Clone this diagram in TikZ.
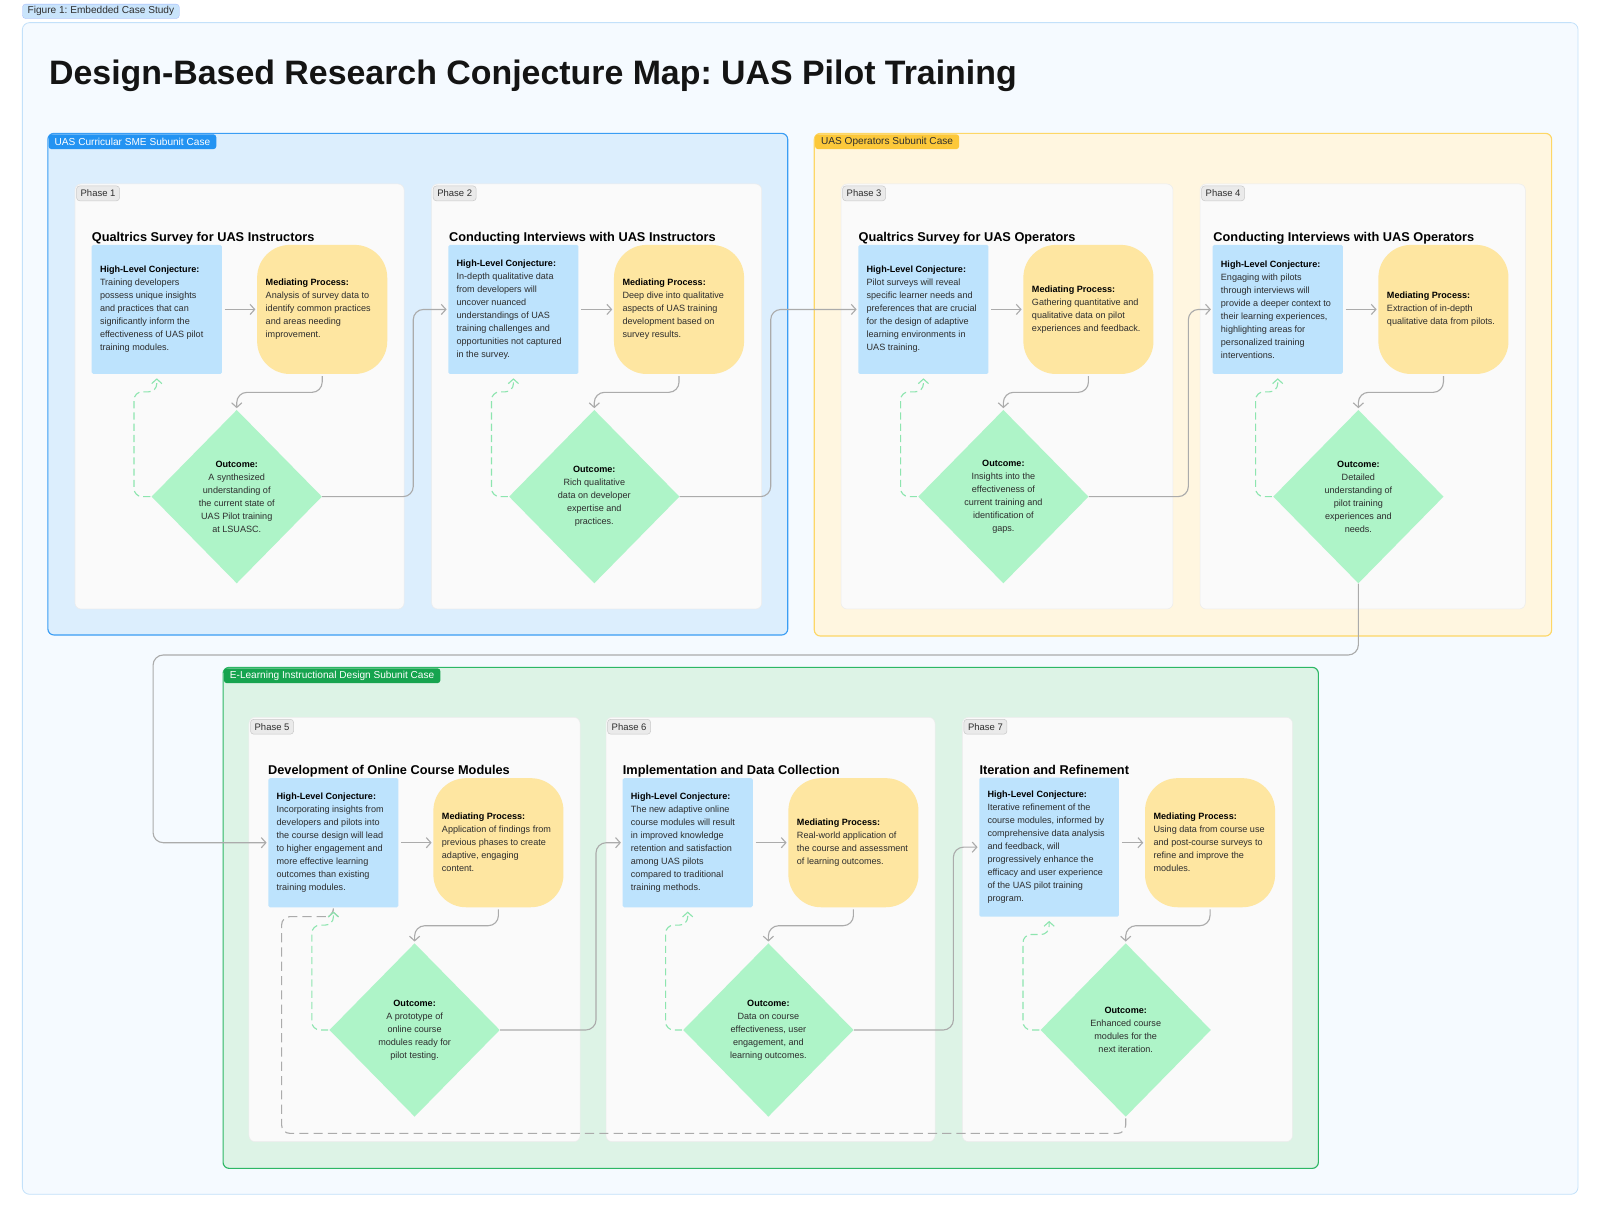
\documentclass[tikz,border=0pt]{standalone}
\usepackage{fontspec}
\setmainfont{Liberation Sans}
\usetikzlibrary{arrows.meta,shapes.geometric,calc}
\frenchspacing

\definecolor{outerbg}{HTML}{F5FAFF}
\definecolor{outerbd}{HTML}{C3E1FA}
\definecolor{figlab}{HTML}{C9E4FB}
\definecolor{bluebg}{HTML}{DCEEFD}
\definecolor{bluebd}{HTML}{3A9DF4}
\definecolor{bluetag}{HTML}{2393F2}
\definecolor{yelbg}{HTML}{FFF6E0}
\definecolor{yelbd}{HTML}{FDD766}
\definecolor{yeltag}{HTML}{FCC83A}
\definecolor{grnbg}{HTML}{DDF3E6}
\definecolor{grnbd}{HTML}{2DB765}
\definecolor{grntag}{HTML}{16A44F}
\definecolor{cardbg}{HTML}{FAFAFA}
\definecolor{cardbd}{HTML}{ECECEC}
\definecolor{tagbg}{HTML}{EAEAEA}
\definecolor{tagbd}{HTML}{C9C9C9}
\definecolor{conjcol}{HTML}{BDE3FD}
\definecolor{medcol}{HTML}{FEE6A1}
\definecolor{outcol}{HTML}{AEF4C8}
\definecolor{linec}{HTML}{ABABAB}
\definecolor{fbc}{HTML}{8DE5AF}
\definecolor{txt}{HTML}{2E2E2E}

\tikzset{
 sect/.style={line width=1.1pt, rounded corners=6pt},
 secttag/.style={anchor=north west, rounded corners=3pt, inner xsep=6pt, inner ysep=0pt, minimum height=14.6pt, font=\fontsize{9.9}{10}\selectfont},
 figtag/.style={anchor=north west, fill=figlab, draw=figlab!80!blue, line width=0.3pt, rounded corners=3pt, inner xsep=5pt, inner ysep=0pt, minimum height=14.1pt, text=txt, font=\fontsize{9.9}{10}\selectfont},
 card/.style={fill=cardbg, draw=cardbd, line width=0.5pt, rounded corners=6pt},
 phasetag/.style={anchor=north west, fill=tagbg, draw=tagbd, line width=0.5pt, rounded corners=3pt, inner xsep=4pt, inner ysep=0pt, minimum height=14.5pt, text=txt, font=\fontsize{9.3}{10}\selectfont},
 ptitle/.style={anchor=base west, inner sep=0pt, font=\bfseries\fontsize{12.5}{14}\selectfont, text=black},
 conj/.style={fill=conjcol, rounded corners=1.5pt, minimum width=127.5pt, minimum height=126.5pt, inner sep=0pt},
 medbox/.style={fill=medcol, rounded corners=32pt, minimum width=127.5pt, minimum height=126.5pt, inner sep=0pt},
 outbox/.style={diamond, fill=outcol, minimum width=167pt, minimum height=170pt, inner sep=0pt, align=center, text=txt, font=\fontsize{8.9}{12.74}\selectfont},
 btxt/.style={anchor=west, inner sep=0pt, align=left, text=txt, font=\fontsize{8.9}{12.74}\selectfont},
 flow/.style={draw=linec, line width=1.1pt, rounded corners=10pt, -{Straight Barb[length=4.5pt,width=10pt]}, shorten >=1.5pt},
 fb/.style={draw=fbc, line width=1.1pt, dash pattern=on 7pt off 4pt, rounded corners=8pt, -{Straight Barb[length=4.5pt,width=10pt]}, shorten >=4pt},
 iterloop/.style={draw=linec, line width=1.1pt, dash pattern=on 9pt off 5pt, rounded corners=8pt, -{Straight Barb[length=4.5pt,width=10pt]}, shorten >=4pt},
}

\newcommand\hdr[1]{\textcolor{black}{\textbf{#1}}}
\newcommand\conjnode[4][]{\node[conj,#1] (#2) at (#3) {}; \node[btxt] (#2t) at ([xshift=8.1pt]#2.west) {\hdr{High-Level Conjecture:}\\#4};}
\newcommand\mednode[3]{\node[medbox] (#1) at (#2) {}; \node[btxt] (#1t) at ([xshift=8.4pt]#1.west) {\hdr{Mediating Process:}\\#3};}
\newcommand\outnode[3]{\node[outbox] (#1) at (#2) {\hdr{Outcome:}\\#3};}

\begin{document}
\begin{tikzpicture}[x=1pt,y=-1pt]
\useasboundingbox (0,0) rectangle (1568,1192.6);

% outer frame
\draw[fill=outerbg, draw=outerbd, line width=0.8pt, rounded corners=7pt] (21.9,22.2) rectangle (1546.5,1170.4);
\node[figtag] (figlabel) at (21.9,3.9) {Figure 1: Embedded Case Study};
\node[anchor=base west, inner sep=0pt, font=\bfseries\fontsize{33.2}{36}\selectfont, text=black!92] (maintitle) at (48,83.3) {Design-Based Research Conjecture Map: UAS Pilot Training};

% sections
\draw[sect, fill=bluebg, draw=bluebd] (46.9,130.7) rectangle (772,622.3);
\node[secttag, fill=bluetag, text=white] (tagA) at (47.4,131.4) {UAS Curricular SME Subunit Case};
\draw[sect, fill=yelbg, draw=yelbd] (798,130.7) rectangle (1520.6,623.3);
\node[secttag, fill=yeltag, text=txt] (tagB) at (798.5,131.4) {UAS Operators Subunit Case};
\draw[sect, fill=grnbg, draw=grnbd] (218.6,654) rectangle (1292,1145);
\node[secttag, fill=grntag, text=white] (tagC) at (219.1,654.7) {E-Learning Instructional Design Subunit Case};

% cards
\draw[card] (73.5,180.3) rectangle (396,596.8);
\draw[card] (423,180.3) rectangle (746.4,596.8);
\draw[card] (824.2,180.3) rectangle (1149.5,596.8);
\draw[card] (1176,180.3) rectangle (1494.8,596.8);
\draw[card] (244,703) rectangle (568.4,1118.8);
\draw[card] (593.9,703) rectangle (916.3,1118.8);
\draw[card] (943.1,703) rectangle (1266.6,1118.8);

% phase tags
\node[phasetag] (t1) at (74.8,182) {Phase 1};
\node[phasetag] (t2) at (424.3,182) {Phase 2};
\node[phasetag] (t3) at (825.5,182) {Phase 3};
\node[phasetag] (t4) at (1177.3,182) {Phase 4};
\node[phasetag] (t5) at (245.3,704.7) {Phase 5};
\node[phasetag] (t6) at (595.2,704.7) {Phase 6};
\node[phasetag] (t7) at (944.4,704.7) {Phase 7};

% phase titles
\node[ptitle] (h1) at (89.8,236.8) {Qualtrics Survey for UAS Instructors};
\node[ptitle] (h2) at (440,236.8) {Conducting Interviews with UAS Instructors};
\node[ptitle] (h3) at (841.2,236.8) {Qualtrics Survey for UAS Operators};
\node[ptitle] (h4) at (1189,236.8) {Conducting Interviews with UAS Operators};
\node[ptitle] (h5) at (262.6,759.4) {Development of Online Course Modules};
\node[ptitle] (h6) at (610.2,759.4) {Implementation and Data Collection};
\node[ptitle] (h7) at (959.7,759.4) {Iteration and Refinement};

% ---- Phase 1
\conjnode{c1}{153.65,303.25}{Training developers\\possess unique insights\\and practices that can\\significantly inform the\\effectiveness of UAS pilot\\training modules.}
\mednode{m1}{315.75,303.25}{Analysis of survey data to\\identify common practices\\and areas needing\\improvement.}
\outnode{d1}{232,486.7}{A synthesized\\understanding of\\the current state of\\UAS Pilot training\\at LSUASC.}

% ---- Phase 2
\conjnode{c2}{503.15,303.25}{In-depth qualitative data\\from developers will\\uncover nuanced\\understandings of UAS\\training challenges and\\opportunities not captured\\in the survey.}
\mednode{m2}{665.45,303.25}{Deep dive into qualitative\\aspects of UAS training\\development based on\\survey results.}
\outnode{d2}{582.4,486.7}{Rich qualitative\\data on developer\\expertise and\\practices.}

% ---- Phase 3
\conjnode{c3}{904.95,303.25}{Pilot surveys will reveal\\specific learner needs and\\preferences that are crucial\\for the design of adaptive\\learning environments in\\UAS training.}
\mednode{m3}{1066.65,303.25}{Gathering quantitative and\\qualitative data on pilot\\experiences and feedback.}
\outnode{d3}{983.3,486.7}{Insights into the\\effectiveness of\\current training and\\identification of\\gaps.}

% ---- Phase 4
\conjnode{c4}{1252.15,303.25}{Engaging with pilots\\through interviews will\\provide a deeper context to\\their learning experiences,\\highlighting areas for\\personalized training\\interventions.}
\mednode{m4}{1414.55,303.25}{Extraction of in-depth\\qualitative data from pilots.}
\outnode{d4}{1331.2,486.7}{Detailed\\understanding of\\pilot training\\experiences and\\needs.}

% ---- Phase 5
\conjnode{c5}{326.75,825.85}{Incorporating insights from\\developers and pilots into\\the course design will lead\\to higher engagement and\\more effective learning\\outcomes than existing\\training modules.}
\mednode{m5}{488.45,825.85}{Application of findings from\\previous phases to create\\adaptive, engaging\\content.}
\outnode{d5}{406.3,1009.4}{A prototype of\\online course\\modules ready for\\pilot testing.}

% ---- Phase 6
\conjnode{c6}{673.95,825.85}{The new adaptive online\\course modules will result\\in improved knowledge\\retention and satisfaction\\among UAS pilots\\compared to traditional\\training methods.}
\mednode{m6}{836.35,825.85}{Real-world application of\\the course and assessment\\of learning outcomes.}
\outnode{d6}{753,1009.4}{Data on course\\effectiveness, user\\engagement, and\\learning outcomes.}

% ---- Phase 7
\conjnode[minimum width=136.9pt, minimum height=136.2pt]{c7}{1028.15,830.2}{Iterative refinement of the\\course modules, informed by\\comprehensive data analysis\\and feedback, will\\progressively enhance the\\efficacy and user experience\\of the UAS pilot training\\program.}
\mednode{m7}{1185.85,825.85}{Using data from course use\\and post-course surveys to\\refine and improve the\\modules.}
\outnode{d7}{1103.2,1009.4}{Enhanced course\\modules for the\\next iteration.}

% ---- iteration loop (phase 7 back to phase 5)
\draw[iterloop, shorten <=1.5pt] (d7.south) -- (d7.south |- 0,1110.7) -- (276,1110.7) |- (c5.south |- 0,898.3) -- (c5.south);

% ---- within-phase flows
\foreach \i/\cy/\fy in {1/384.5/384,2/384.5/384,3/384.5/384,4/384.5/384,5/907.2/906.6,6/907.2/906.6,7/907.2/915.8}{
  \draw[flow, shorten <=2.5pt] (c\i.east |- m\i.west) -- (m\i.west);
  \draw[flow, shorten <=2pt] (m\i.south) -- (m\i.south |- 0,\cy) -| (d\i.north);
  \draw[fb, shorten <=1pt] (d\i.west) -- ++(-17,0) |- (c\i.south |- 0,\fy) -- (c\i.south);
}

% ---- between-phase flows
\draw[flow] (d1.east) -- (405,486.7) |- (c2.west);
\draw[flow] (d2.east) -- (755.3,486.7) |- (c3.west);
\draw[flow] (d3.east) -- (1164.6,486.7) |- (c4.west);
\draw[flow] (d4.south) -- (d4.south |- 0,641.9) -- (150,641.9) |- (c5.west);
\draw[flow] (d5.east) -- (584.1,1009.4) |- (c6.west);
\draw[flow] (d6.east) -- (934.3,1009.4) |- (c7.west);
\end{tikzpicture}
\end{document}
